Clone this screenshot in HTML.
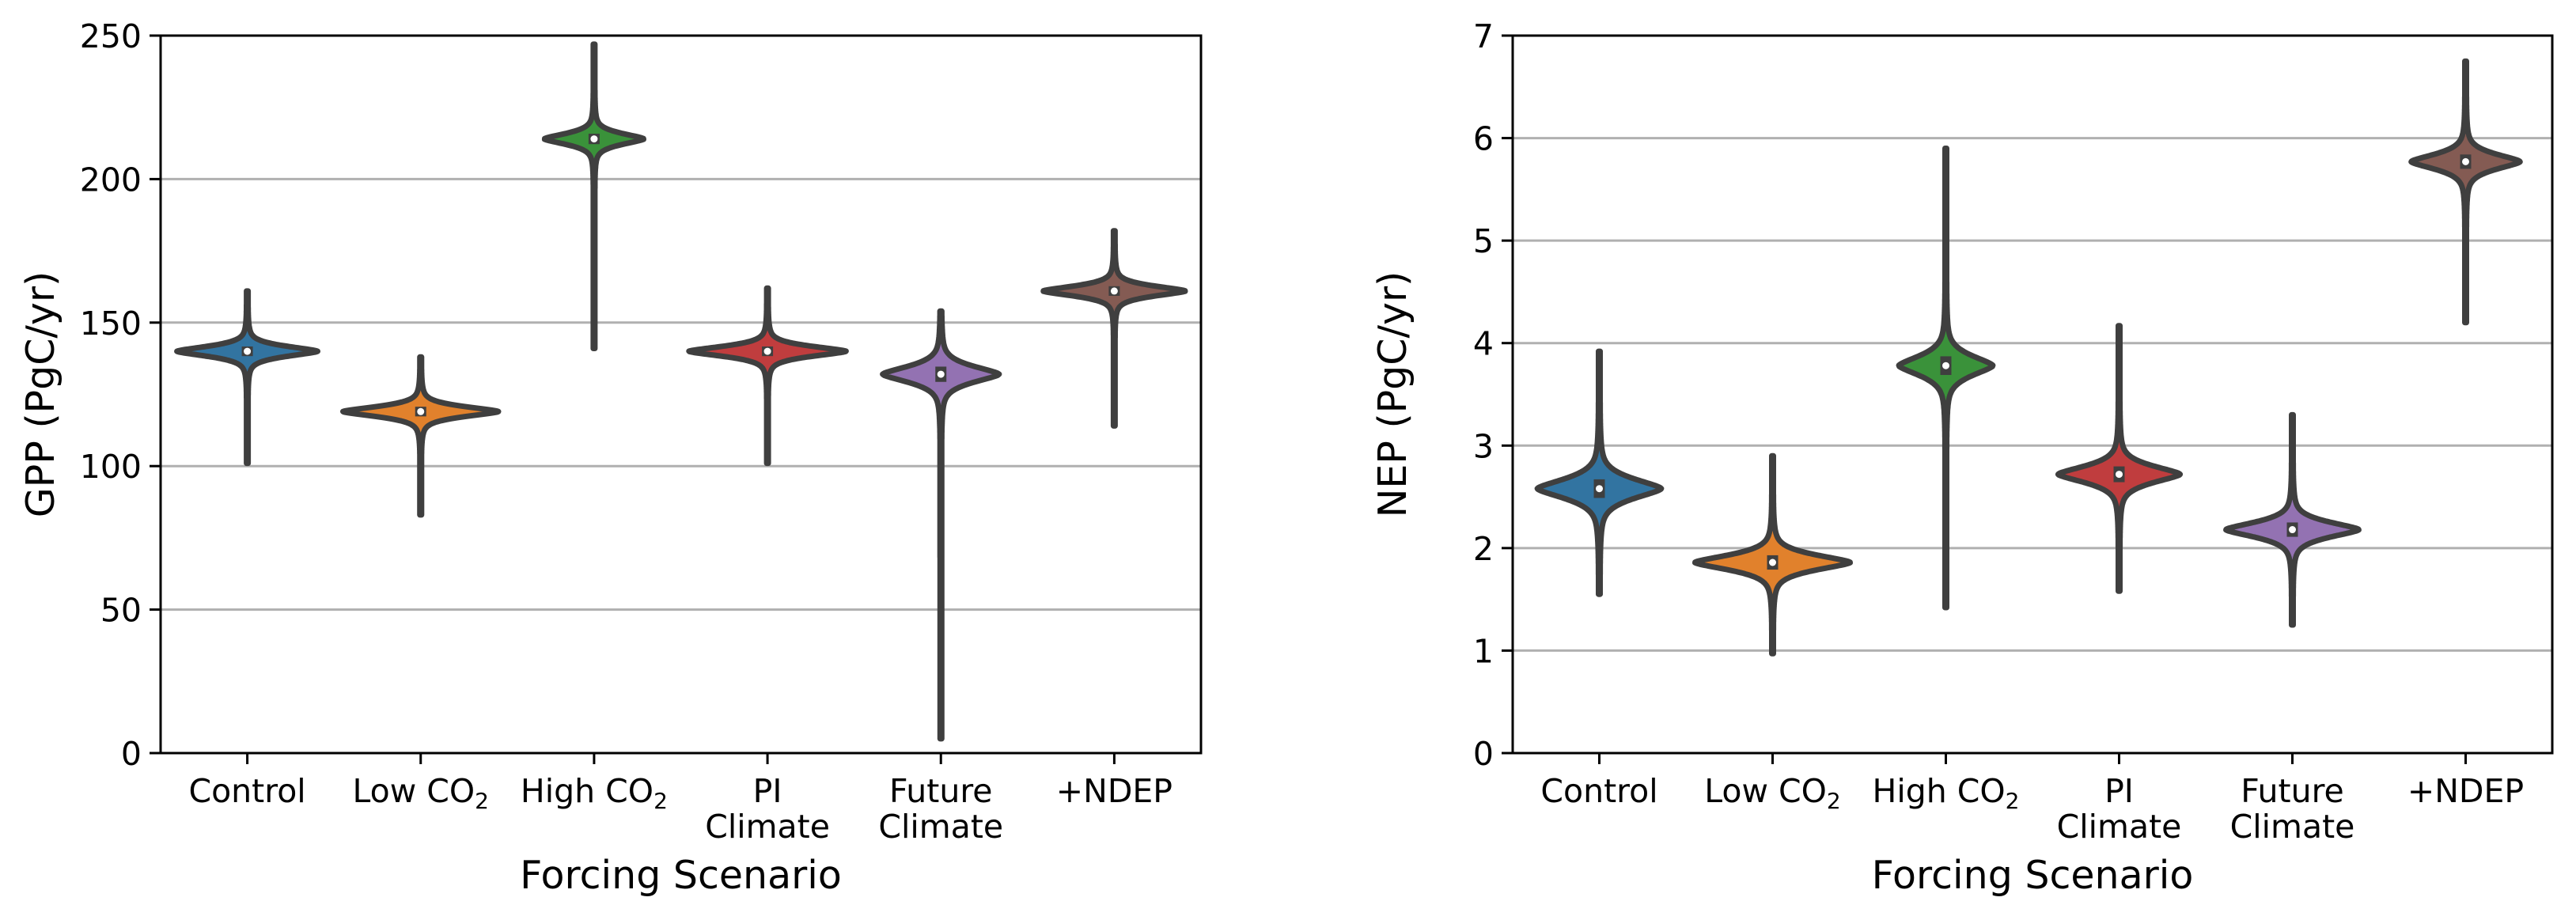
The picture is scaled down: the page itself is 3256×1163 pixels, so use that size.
<!DOCTYPE html>
<html><head><meta charset="utf-8">
<style>
html,body{margin:0;padding:0;background:#fff;}
svg{display:block;font-family:"DejaVu Sans","Liberation Sans",sans-serif;}
</style></head>
<body>
<svg id="fig" width="3256" height="1163" viewBox="0 0 3256 1163" xmlns="http://www.w3.org/2000/svg"></svg>
<script>
// ---- data ----
const categories = ["Control","Low CO2","High CO2","PI Climate","Future Climate","+NDEP"];
const gppMedian = [140,119,214,140,132,161];
const gppMin = [101,83,141,101,5,114];
const gppMax = [161,138,247,162,154,182];
const gppSpread = [2.4,2.4,2.6,2.4,3.8,2.4];
const gppWidth = [0.75,0.83,0.53,0.84,0.62,0.76];
const gppTicks = [0,50,100,150,200,250];
const nepMedian = [2.58,1.86,3.78,2.72,2.18,5.77];
const nepMin = [1.55,0.97,1.42,1.58,1.25,4.2];
const nepMax = [3.92,2.9,5.9,4.17,3.3,6.75];
const nepSpread = [0.13,0.1,0.13,0.11,0.1,0.1];
const nepWidth = [0.66,0.83,0.5,0.65,0.71,0.58];
const nepTicks = [0,1,2,3,4,5,6,7];
const colors = ["#3274a1","#e1812c","#3a923a","#c03d3e","#9372b2","#845b53"];

const NS="http://www.w3.org/2000/svg";
const svg=document.getElementById('fig');
function mk(tag,attrs,parent){const e=document.createElementNS(NS,tag);for(const k in attrs)e.setAttribute(k,attrs[k]);(parent||svg).appendChild(e);return e;}

function drawPanel(opt){
  const {x0,x1,y0,y1,ymax,ticks,med,mn,mx,spread,width,ylabel,name}=opt;
  const g=mk('g',{});
  
  
  const ys=v=>y1-(v/ymax)*(y1-y0);
  const band=(x1-x0)/categories.length;
  const xs=i=>x0+band*(i+0.5);
  ticks.forEach(t=>{
    if(t>0&&t<ymax){const l=mk('line',{x1:x0,x2:x1,y1:ys(t),y2:ys(t),stroke:'#b0b0b0','stroke-width':3},g);
      
      }
  });
  categories.forEach((c,i)=>{
    const vg=mk('g',{},g);
    
    
    const W=width[i]*band/2, cx=xs(i);
    const sPx=spread[i]/ymax*(y1-y0);
    const steps=400; const pts=[];
    for(let k=0;k<=steps;k++){
      const v=mn[i]+(mx[i]-mn[i])*k/steps;
      const d=Math.abs(ys(v)-ys(med[i]));
      const w=W*Math.exp(-Math.pow(d/sPx,1.5))+0.07*W*Math.exp(-Math.pow(d/(3*sPx),2))+1;
      pts.push([w,ys(v)]);
    }
    let dstr='';
    pts.forEach((p,k)=>{dstr+=(k?'L':'M')+(cx+p[0]).toFixed(1)+','+p[1].toFixed(1);});
    for(let k=pts.length-1;k>=0;k--){dstr+='L'+(cx-pts[k][0]).toFixed(1)+','+pts[k][1].toFixed(1);}
    dstr+='Z';
    const body=mk('path',{d:dstr,fill:colors[i],stroke:'#3f3f3f','stroke-width':7,'stroke-linejoin':'round'},vg);
    
    
    const q1=ys(med[i]-spread[i]*0.7), q3=ys(med[i]+spread[i]*0.7);
    const bx=mk('rect',{x:cx-7,y:q3,width:14,height:q1-q3,fill:'#3f3f3f'},vg);
    
    
    const dot=mk('circle',{cx:cx,cy:ys(med[i]),r:4.5,fill:'#fff'},vg);
    
    
  });
  const fr=mk('rect',{x:x0,y:y0,width:x1-x0,height:y1-y0,fill:'none',stroke:'#000','stroke-width':3},g);
  
  
  ticks.forEach(t=>{
    const tl=mk('line',{x1:x0-14,x2:x0,y1:ys(t),y2:ys(t),stroke:'#000','stroke-width':3},g);
    
    
    const tx=mk('text',{x:x0-24,y:ys(t)+15,'font-size':41,'text-anchor':'end',fill:'#000'},g);
    tx.textContent=String(t);
    
    
  });
  const labels=[["Control"],["Low CO","2"],["High CO","2"],["PI","Climate"],["Future","Climate"],["+NDEP"]];
  labels.forEach((lb,i)=>{
    const cx=xs(i);
    const tl=mk('line',{x1:cx,x2:cx,y1:y1,y2:y1+14,stroke:'#000','stroke-width':3},g);
    
    
    const tx=mk('text',{x:cx,y:1014,'font-size':41,'text-anchor':'middle',fill:'#000'},g);
    
    
    if(lb[1]==="2"){
      tx.textContent=lb[0];
      const sub=mk('tspan',{'font-size':28,dy:8},tx); sub.textContent='2';
    } else if(lb.length===2){
      tx.textContent=lb[0];
      const t2=mk('text',{x:cx,y:1059,'font-size':41,'text-anchor':'middle',fill:'#000'},g);
      t2.textContent=lb[1];
      
      
    } else tx.textContent=lb[0];
  });
  const xl=mk('text',{x:(x0+x1)/2,y:1123,'font-size':49,'text-anchor':'middle',fill:'#000'},g);
  xl.textContent='Forcing Scenario';
  
  
  const yl=mk('text',{x:0,y:0,'font-size':49,'text-anchor':'middle',fill:'#000',transform:`translate(${x0-135},${(y0+y1)/2}) rotate(-90)`},g);
  yl.textContent=ylabel;
  
  
}
drawPanel({x0:203,x1:1518,y0:45,y1:952,ymax:250,ticks:gppTicks,med:gppMedian,mn:gppMin,mx:gppMax,spread:gppSpread,width:gppWidth,ylabel:'GPP (PgC/yr)',name:'gpp'});
drawPanel({x0:1912,x1:3226,y0:45,y1:952,ymax:7,ticks:nepTicks,med:nepMedian,mn:nepMin,mx:nepMax,spread:nepSpread,width:nepWidth,ylabel:'NEP (PgC/yr)',name:'nep'});
</script>
</body></html>
